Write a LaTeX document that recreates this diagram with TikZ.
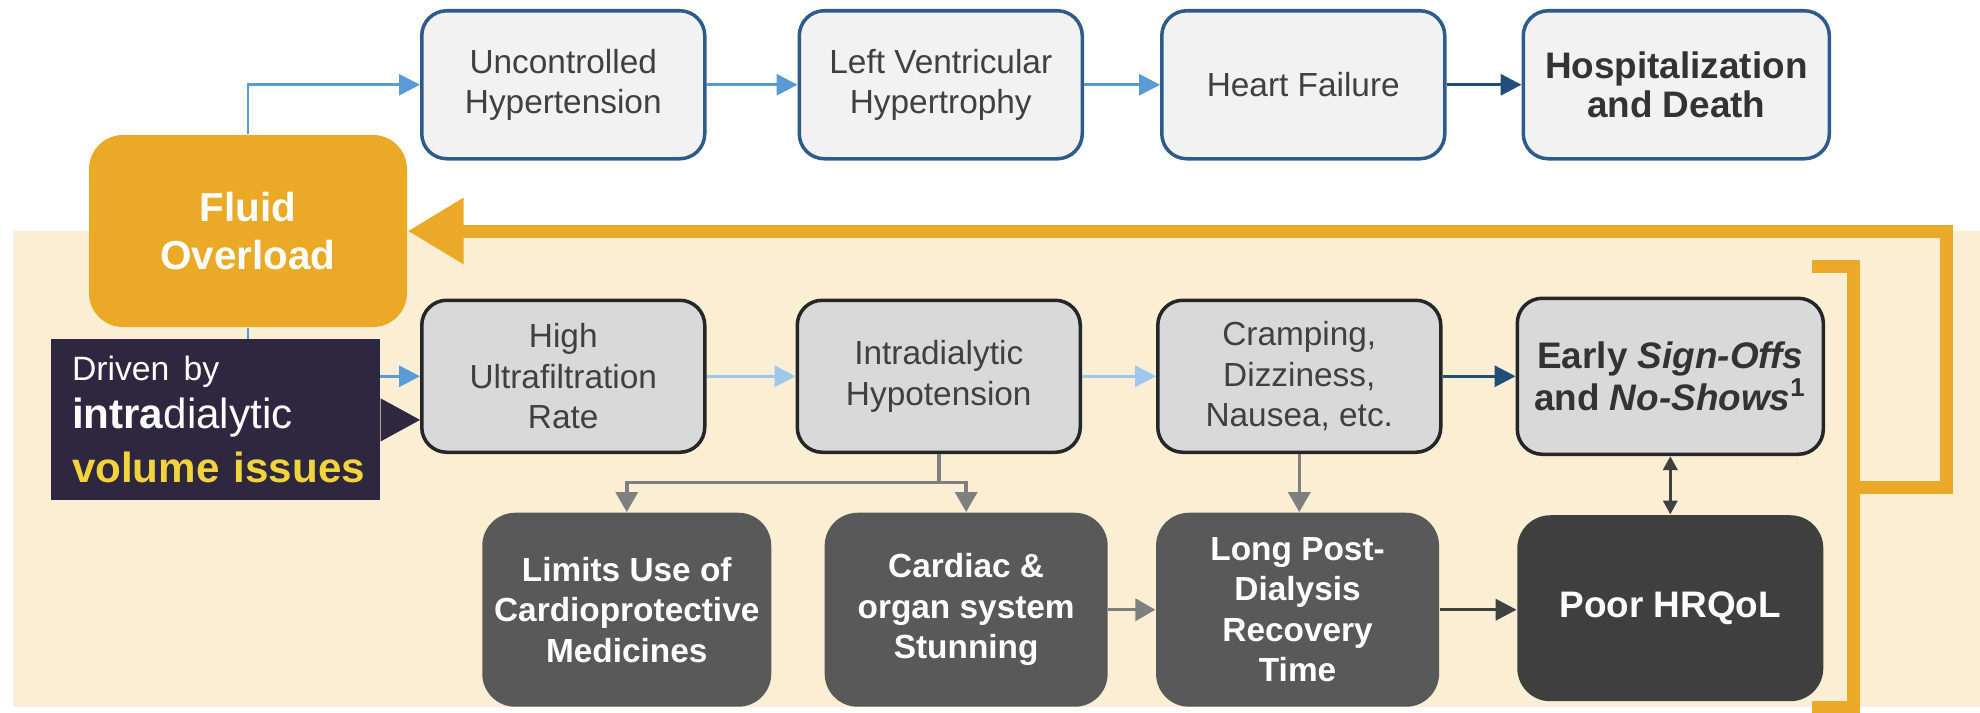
\documentclass[tikz,border=0pt]{standalone}
\usepackage{fontspec}
\setmainfont{Liberation Sans}
\usetikzlibrary{positioning, arrows.meta, calc}

\definecolor{orangefo}{HTML}{EAAA28}
\definecolor{beigebg}{HTML}{FAEED5}
\definecolor{topfill}{HTML}{F2F2F2}
\definecolor{topedge}{HTML}{2E5C8A}
\definecolor{midfill}{HTML}{D9D9D9}
\definecolor{midedge}{HTML}{262626}
\definecolor{lowfill}{HTML}{595959}
\definecolor{poorfill}{HTML}{3F3F3F}
\definecolor{drvnavy}{HTML}{2D2740}
\definecolor{volyellow}{HTML}{F2D33B}
\definecolor{arrblue}{HTML}{5B9BD5}
\definecolor{arrpale}{HTML}{9DC8EC}
\definecolor{arrnavy}{HTML}{1F4E79}
\definecolor{arrgray}{HTML}{7F7F7F}
\definecolor{txtgray}{HTML}{404040}

\begin{document}
\begin{tikzpicture}[
    font=\fontsize{9.5}{11.5}\selectfont,
    >={Triangle[length=0.21cm, width=0.21cm]},
    top_box/.style={draw=topedge, line width=1pt, fill=topfill, text=txtgray, rounded corners=0.25cm, minimum width=2.83cm, minimum height=1.48cm, align=center, inner sep=2pt},
    mid_box/.style={draw=midedge, line width=1pt, fill=midfill, text=txtgray, rounded corners=0.25cm, minimum width=2.83cm, minimum height=1.52cm, align=center, inner sep=2pt},
    low_box/.style={fill=lowfill, text=white, rounded corners=0.33cm, minimum width=2.83cm, minimum height=1.94cm, align=center, inner sep=2pt, font=\bfseries\fontsize{9.5}{11.5}\selectfont},
    bold_text/.style={font=\bfseries\fontsize{10.5}{11}\selectfont},
    fluid_box/.style={fill=orangefo, text=white, rounded corners=0.34cm, minimum width=3.18cm, minimum height=1.92cm, align=center, font=\bfseries\fontsize{11.5}{13.5}\selectfont},
    drv_box/.style={fill=drvnavy, text=white, minimum height=1.61cm, text width=2.87cm, inner xsep=0.21cm, align=left, font=\fontsize{12}{14.5}\selectfont},
    blue_arrow/.style={->, draw=arrblue, line width=0.8pt},
    pale_arrow/.style={->, draw=arrpale, line width=0.9pt},
    navy_arrow/.style={->, draw=arrnavy, line width=0.9pt},
    gray_arrow/.style={-{Triangle[length=0.2cm, width=0.22cm]}, draw=arrgray, line width=1pt},
    dark_arrow/.style={->, draw=txtgray, line width=1pt},
    dbl_arrow/.style={{Triangle[length=0.14cm, width=0.14cm]}-{Triangle[length=0.14cm, width=0.14cm]}, draw=txtgray, line width=1pt},
    loop_line/.style={draw=orangefo, line width=0.13cm, line join=miter}
]
\useasboundingbox (0,0) rectangle (19.80,-7.13);

% Intradialytic band
\fill[beigebg] (0.13,-2.31) rectangle (19.80,-7.07);

% Fluid Overload
\node[fluid_box] (fluid) at (2.48,-2.31) {Fluid\\Overload};

% Top row (chronic path)
\node[top_box, anchor=north west] (unctrl) at (4.20,-0.09) {Uncontrolled\\Hypertension};
\node[top_box, right=0.91cm of unctrl] (lvh) {Left Ventricular\\Hypertrophy};
\node[top_box, right=0.76cm of lvh] (hf) {Heart Failure};
\node[top_box, bold_text, right=0.75cm of hf, minimum width=3.06cm, text=black!80] (hosp) {Hospitalization\\and Death};

% Middle row (intradialytic path)
\node[mid_box, below=1.38cm of unctrl] (hufr) {High\\Ultrafiltration\\Rate};
\node[mid_box, right=0.89cm of hufr] (idh) {Intradialytic\\Hypotension};
\node[mid_box, right=0.74cm of idh] (cramp) {Cramping,\\Dizziness,\\Nausea, etc.};
\node[mid_box, bold_text, right=0.73cm of cramp, minimum width=3.06cm, minimum height=1.56cm, text=black!80] (early) {Early \textit{Sign-Offs}\\and \textit{No-Shows}\textsuperscript{1}};

% Bottom row (consequences)
\node[low_box, below=0.58cm of hufr, xshift=0.635cm, minimum width=2.89cm] (limits) {Limits Use of\\Cardioprotective\\Medicines};
\node[low_box, right=0.52cm of limits] (cardiac) {Cardiac \&\\organ system\\Stunning};
\node[low_box, right=0.47cm of cardiac] (longpd) {Long Post-\\Dialysis\\Recovery\\Time};
\node[low_box, below=0.585cm of early, minimum width=3.06cm, minimum height=1.86cm, fill=poorfill, font=\bfseries\fontsize{10.5}{12}\selectfont] (poor) {Poor HRQoL};

% Connections
\draw[blue_arrow] (fluid.north) |- (unctrl.west);
\draw[blue_arrow] (unctrl) -- (lvh);
\draw[blue_arrow] (lvh) -- (hf);
\draw[navy_arrow] (hf) -- (hosp);
\draw[blue_arrow] (fluid.south) |- (hufr.west);
\draw[pale_arrow] (hufr) -- (idh);
\draw[pale_arrow] (idh) -- (cramp);
\draw[navy_arrow] (cramp) -- (early);
\coordinate (split) at ($(idh.south)+(0,-0.285)$);
\draw[gray_arrow] (idh.south) -- (split) -| (limits.north);
\draw[gray_arrow] (split) -| (cardiac.north);
\draw[gray_arrow] (cramp.south) -- (cramp.south |- longpd.north);
\draw[gray_arrow] (cardiac) -- (longpd);
\draw[dark_arrow] (longpd.east) -- (longpd.east -| poor.west);
\draw[dbl_arrow] (early) -- (poor);

% Driver box sits over the blue line
\node[drv_box, below=0.11cm of fluid, xshift=-0.325cm] (drv) {\mbox{\fontsize{9.6}{13}\selectfont Driven by}\\[-1pt]\mbox{\textbf{intra}dialytic}\\[1pt]\mbox{\textcolor{volyellow}{\bfseries volume issues}}};
\fill[drvnavy] ([yshift=2.15mm]drv.east) -- (drv.east -| hufr.west) -- ([yshift=-2.15mm]drv.east) -- cycle;

% Feedback loop back to Fluid Overload
\coordinate (brk_top) at (18.535,-2.665);
\coordinate (brk_bot) at (18.535,-7.075);
\draw[loop_line] ([xshift=-4.15mm]brk_top) -- (brk_top) -- (brk_bot) -- ([xshift=-4.15mm]brk_bot);
\draw[loop_line, -{Triangle[length=0.56cm, width=0.63cm]}] ($(brk_top)!0.5!(brk_bot)$) -- ++(0.93,0) |- (fluid.east);

\end{tikzpicture}
\end{document}
